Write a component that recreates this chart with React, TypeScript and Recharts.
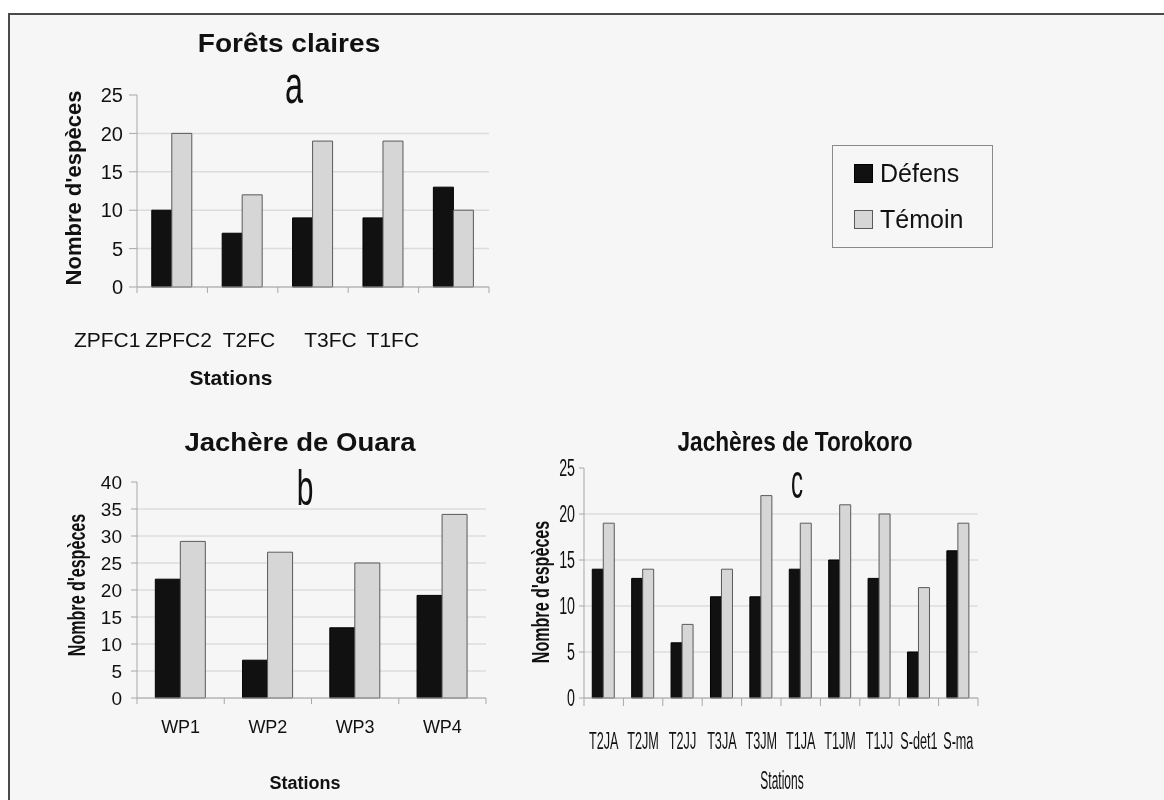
import React from 'react';
import { BarChart, Bar, XAxis, YAxis, CartesianGrid, Legend } from 'recharts';

// ---------- data ----------
const seriesNames = ['Défens', 'Témoin'];

const categoriesA = ['ZPFC1', 'ZPFC2', 'T2FC', 'T3FC', 'T1FC'];
const defensA = [10, 7, 9, 9, 13];
const temoinA = [20, 12, 19, 19, 10];
const ticksA = [0, 5, 10, 15, 20, 25];

const categoriesB = ['WP1', 'WP2', 'WP3', 'WP4'];
const defensB = [22, 7, 13, 19];
const temoinB = [29, 27, 25, 34];
const ticksB = [0, 5, 10, 15, 20, 25, 30, 35, 40];

const categoriesC = ['T2JA', 'T2JM', 'T2JJ', 'T3JA', 'T3JM', 'T1JA', 'T1JM', 'T1JJ', 'S-det1', 'S-ma'];
const defensC = [14, 13, 6, 11, 11, 14, 15, 13, 5, 16];
const temoinC = [19, 14, 8, 14, 22, 19, 21, 20, 12, 19];
const ticksC = [0, 5, 10, 15, 20, 25];

const build = (cats: string[], d: number[], t: number[]) =>
  cats.map((station, i) => ({ station, defens: d[i], temoin: t[i] }));

const dataA = build(categoriesA, defensA, temoinA);
const dataB = build(categoriesB, defensB, temoinB);
const dataC = build(categoriesC, defensC, temoinC);

// ---------- style ----------
const SANS = "'Liberation Sans', Arial, Helvetica, sans-serif";
const INK = '#111';
const AXIS = '#a8a8a8';
const GRID = '#dcdcdc';
const DARK_FILL = '#111111';
const DARK_STROKE = '#000000';
const LIGHT_FILL = '#d6d6d6';
const LIGHT_STROKE = '#5a5a5a';
const BG = '#f6f6f6';

// label shifts for panel a (labels in the original are offset from the bar groups)
const shiftsA = [-65, -64, -64, -53, -61];

function STxt(props: {
  x: number; y: number; sx?: number; rot?: number; size: number; weight?: string | number;
  anchor?: 'start' | 'middle' | 'end'; children: React.ReactNode; dy?: string;
}) {
  const { x, y, sx = 1, rot = 0, size, weight = 'normal', anchor = 'middle', children, dy } = props;
  return (
    <g transform={`translate(${x},${y})${rot ? ` rotate(${rot})` : ''} scale(${sx},1)`}>
      <text x={0} y={0} dy={dy} textAnchor={anchor} fontSize={size} fontWeight={weight} fontFamily={SANS} fill={INK}>
        {children}
      </text>
    </g>
  );
}

function makeXTick(opts: {
  band: number; count: number; size: number; sx: number; labelDy: number; tickLen: number; shifts?: number[];
}) {
  return (p: any) => {
    const { x, y, payload, index } = p;
    const half = opts.band / 2;
    const shift = opts.shifts ? opts.shifts[index] || 0 : 0;
    return (
      <g>
        <line x1={x - half} x2={x - half} y1={y} y2={y + opts.tickLen} stroke={AXIS} />
        {index === opts.count - 1 && (
          <line x1={x + half} x2={x + half} y1={y} y2={y + opts.tickLen} stroke={AXIS} />
        )}
        <STxt x={x + shift} y={y + opts.labelDy} sx={opts.sx} size={opts.size}>
          {payload.value}
        </STxt>
      </g>
    );
  };
}

function makeYTick(size: number, sx: number) {
  return (p: any) => {
    const { x, y, payload } = p;
    return (
      <STxt x={x} y={y} sx={sx} size={size} anchor="end" dy="0.355em">
        {payload.value}
      </STxt>
    );
  };
}

const LegendBox = (p: any) => {
  const payload = p.payload || [];
  const fills = [DARK_FILL, LIGHT_FILL];
  const strokes = [DARK_STROKE, LIGHT_STROKE];
  return (
    <div
      style={{
        width: 161, height: 103, boxSizing: 'border-box', border: '1px solid #8a8a8a',
        background: BG, position: 'relative', fontFamily: SANS,
      }}
    >
      {payload.map((e: any, i: number) => (
        <React.Fragment key={i}>
          <div
            style={{
              position: 'absolute', left: 21, top: 18 + i * 45.5, width: 17, height: 17,
              background: fills[i], border: `1px solid ${strokes[i]}`,
            }}
          />
          <div
            style={{
              position: 'absolute', left: 47, top: 13 + i * 45.5, fontSize: 25, lineHeight: '28px', color: INK,
            }}
          >
            {e.value}
          </div>
        </React.Fragment>
      ))}
    </div>
  );
};

const barsFor = () => [
  <Bar key="d" dataKey="defens" name={seriesNames[0]} fill={DARK_FILL} stroke={DARK_STROKE} strokeWidth={1} isAnimationActive={false} />,
  <Bar key="t" dataKey="temoin" name={seriesNames[1]} fill={LIGHT_FILL} stroke={LIGHT_STROKE} strokeWidth={1} isAnimationActive={false} />,
];

export default function App() {
  return (
    <div style={{ position: 'relative', width: 1148, height: 784 }}>
      {/* page frame (fixed so it never creates scroll overflow) */}
      <div
        style={{
          position: 'fixed', left: 8, top: 13, right: 0, bottom: 0,
          background: BG, borderTop: '2px solid #4a4a4a', borderLeft: '2px solid #4a4a4a',
        }}
      />

      {/* Panel a + legend */}
      <div style={{ position: 'absolute', left: 0, top: 0 }}>
        <BarChart
          width={1148} height={400} data={dataA}
          margin={{ top: 87, right: 667, bottom: 91, left: 69 }}
          barCategoryGap="21%" barGap={0}
        >
          <CartesianGrid vertical={false} stroke={GRID} strokeWidth={1.5} horizontalValues={ticksA.slice(0, -1)} />
          <XAxis
            dataKey="station" height={30} axisLine={{ stroke: AXIS }} tickLine={false} tickSize={0} tickMargin={0}
            interval={0}
            tick={makeXTick({ band: 352 / 5, count: 5, size: 21, sx: 1, labelDy: 60, tickLen: 6, shifts: shiftsA })}
          />
          <YAxis
            width={60} domain={[0, 25]} ticks={ticksA} interval={0} axisLine={{ stroke: AXIS }}
            tickLine={{ stroke: AXIS }} tickSize={8} tickMargin={6}
            tick={{ fontSize: 20, fill: INK, fontFamily: SANS }}
          />
          {barsFor()}
          <Legend
            layout="vertical" align="center" verticalAlign="middle"
            wrapperStyle={{ left: 824, top: 137, width: 161, height: 103 }}
            content={LegendBox}
          />
        </BarChart>
      </div>

      {/* Panel b */}
      <div style={{ position: 'absolute', left: 0, top: 400 }}>
        <BarChart
          width={520} height={384} data={dataB}
          margin={{ top: 74, right: 42, bottom: 64, left: 69 }}
          barCategoryGap="21%" barGap={0}
        >
          <CartesianGrid vertical={false} stroke={GRID} strokeWidth={1.5} horizontalValues={ticksB.slice(0, -1)} />
          <XAxis
            dataKey="station" height={30} axisLine={{ stroke: AXIS }} tickLine={false} tickSize={0} tickMargin={0}
            interval={0}
            tick={makeXTick({ band: 349 / 4, count: 4, size: 18, sx: 1, labelDy: 35, tickLen: 6 })}
          />
          <YAxis
            width={60} domain={[0, 40]} ticks={ticksB} interval={0} axisLine={{ stroke: AXIS }}
            tickLine={{ stroke: AXIS }} tickSize={6} tickMargin={9}
            tick={{ fontSize: 19, fill: INK, fontFamily: SANS }}
          />
          {barsFor()}
        </BarChart>
      </div>

      {/* Panel c */}
      <div style={{ position: 'absolute', left: 520, top: 400 }}>
        <BarChart
          width={628} height={384} data={dataC}
          margin={{ top: 60, right: 178, bottom: 64, left: 16 }}
          barCategoryGap="21%" barGap={0}
        >
          <CartesianGrid vertical={false} stroke={GRID} strokeWidth={1.5} horizontalValues={ticksC.slice(0, -1)} />
          <XAxis
            dataKey="station" height={30} axisLine={{ stroke: AXIS }} tickLine={false} tickSize={0} tickMargin={0}
            interval={0}
            tick={makeXTick({ band: 394 / 10, count: 10, size: 23, sx: 0.55, labelDy: 51, tickLen: 8 })}
          />
          <YAxis
            width={40} domain={[0, 25]} ticks={ticksC} interval={0} axisLine={{ stroke: AXIS }}
            tickLine={{ stroke: AXIS }} tickSize={5} tickMargin={4}
            tick={makeYTick(23, 0.62)}
          />
          {barsFor()}
        </BarChart>
      </div>

      {/* Titles, panel letters, axis titles */}
      <svg
        width={1148} height={790}
        style={{ position: 'absolute', left: 0, top: 0, pointerEvents: 'none', overflow: 'visible' }}
      >
        <STxt x={281} y={44} size={26} sx={1.08} weight="bold">Forêts claires</STxt>
        <STxt x={286} y={95} size={54} sx={0.6}>a</STxt>
        <STxt x={73} y={180} rot={-90} size={22} weight="bold">Nombre d'espèces</STxt>
        <STxt x={223} y={377} size={21} weight="bold">Stations</STxt>

        <STxt x={292} y={443} size={26} sx={1.06} weight="bold">Jachère de Ouara</STxt>
        <STxt x={297} y={497} size={50} sx={0.6}>b</STxt>
        <STxt x={77} y={577} rot={-90} size={23} sx={0.7} weight="bold">Nombre d'espèces</STxt>
        <STxt x={297} y={781} size={18} weight="bold">Stations</STxt>

        <STxt x={787} y={443} size={27} sx={0.84} weight="bold">Jachères de Torokoro</STxt>
        <STxt x={789} y={490} size={48} sx={0.5}>c</STxt>
        <STxt x={541} y={584} rot={-90} size={23} sx={0.7} weight="bold">Nombre d'espèces</STxt>
        <STxt x={774} y={781} size={25} sx={0.48}>Stations</STxt>
      </svg>
    </div>
  );
}
